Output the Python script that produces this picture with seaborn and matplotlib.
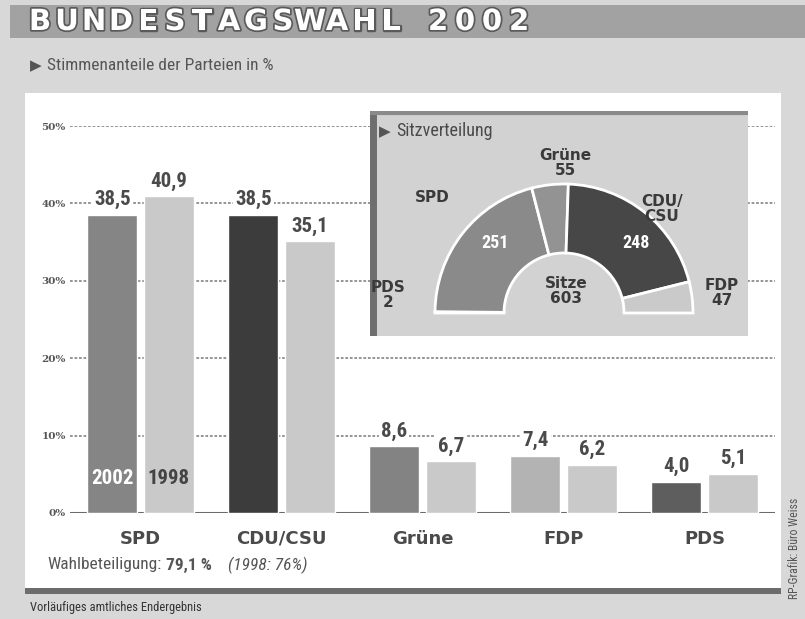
import matplotlib
matplotlib.use("Agg")
import matplotlib.pyplot as plt
import matplotlib.patheffects as pe
from matplotlib.patches import Rectangle
from matplotlib import font_manager as fm
import seaborn as sns
import pandas as pd

# ---------------- data ----------------
parties = ["SPD", "CDU/CSU", "Grüne", "FDP", "PDS"]
votes_2002 = [38.5, 38.5, 8.6, 7.4, 4.0]
votes_1998 = [40.9, 35.1, 6.7, 6.2, 5.1]
years = ["2002", "1998"]
ytick_values = [0, 10, 20, 30, 40, 50]
ytick_labels = ["0%", "10%", "20%", "30%", "40%", "50%"]

seat_parties = ["PDS", "SPD", "Grüne", "CDU/CSU", "FDP"]
seats = [2, 251, 55, 248, 47]
total_seats = 603

title = "BUNDESTAGSWAHL 2002"
subtitle = "Stimmenanteile der Parteien in %"
inset_title = "Sitzverteilung"
turnout_text = "Wahlbeteiligung:"
turnout_value = "79,1 %"
turnout_prev = "(1998: 76%)"
footer = "Vorläufiges amtliches Endergebnis"
credit = "RP-Grafik: Büro Weiss"

# ---------------- fonts ----------------
sns.set_style("white")


def pick(cands):
    for c in cands:
        try:
            fm.findfont(fm.FontProperties(family=c), fallback_to_default=False)
            return c
        except Exception:
            pass
    return "DejaVu Sans"


NARROW = pick(["Liberation Sans Narrow", "DejaVu Sans Condensed", "Roboto Condensed", "Liberation Sans"])
plt.rcParams["font.family"] = ["DejaVu Sans"]

W, H = 805, 619
fig = plt.figure(figsize=(W / 100, H / 100), dpi=100)
fig.patch.set_facecolor("#d8d8d8")


def fx(x):
    return x / W


def fy(y):
    return 1 - y / H


def rect(x0, y0, x1, y1, color, z=-5):
    fig.add_artist(Rectangle((fx(x0), fy(y1)), (x1 - x0) / W, (y1 - y0) / H,
                             transform=fig.transFigure, facecolor=color,
                             edgecolor="none", zorder=z))


# background pieces
rect(10, 5, 805, 38, "#a2a2a2")           # title band
rect(25, 93, 781, 590, "white")           # white panel
rect(25, 588, 781, 594, "#6c6c6c")        # dark bottom bar

# title letters, spaced
x = 40
for ch in title:
    if ch != " ":
        fig.text(fx(x), fy(22), ch, fontsize=21, fontweight="bold", color="white",
                 ha="center", va="center", zorder=5,
                 path_effects=[pe.withStroke(linewidth=2.5, foreground="#5a5a5a")])
    x += 27 if ch != " " else 20

fig.text(fx(30), fy(66), "\u25B6", fontsize=11, color="#555555", ha="left", va="center")
fig.text(fx(47), fy(66), subtitle, fontsize=12.5, color="#555555", ha="left", va="center",
         family=NARROW)

# ---------------- main bar chart ----------------
ax = fig.add_axes([fx(70), fy(513), (775 - 70) / W, (513 - 126) / H])
ax.patch.set_alpha(0)

df = pd.DataFrame({
    "party": parties * 2,
    "value": votes_2002 + votes_1998,
    "year": [years[0]] * len(parties) + [years[1]] * len(parties),
})
sns.barplot(data=df, x="party", y="value", hue="year", hue_order=years,
            order=parties, palette=["#888888", "#c9c9c9"], saturation=1,
            width=0.8, gap=0.12, legend=False, ax=ax, zorder=3)

colors_2002 = ["#858585", "#3c3c3c", "#838383", "#b3b3b3", "#5e5e5e"]
for patch, c in zip(ax.containers[0], colors_2002):
    patch.set_facecolor(c)
for patch in ax.containers[1]:
    patch.set_facecolor("#c9c9c9")

ax.set_ylim(0, 50)
ax.set_xlim(-0.5, 4.5)
for s in ax.spines.values():
    s.set_visible(False)

ax.set_yticks(ytick_values, labels=ytick_labels)
ax.tick_params(axis="y", length=0, pad=3, labelsize=7.5, labelcolor="#555555")
for t in ax.get_yticklabels():
    t.set_fontweight("bold")
    t.set_family("DejaVu Serif")
ax.grid(axis="y", linestyle=(0, (1.5, 1.0)), color="#8c8c8c", linewidth=1.3, zorder=0)
ax.set_axisbelow(True)
ax.axhline(0, color="#6a6a6a", linewidth=2.2, zorder=2)

ax.set_xlabel("")
ax.set_ylabel("")
ax.tick_params(axis="x", length=0, pad=12, labelsize=13, labelcolor="#4a4a4a")
for t in ax.get_xticklabels():
    t.set_fontweight("bold")

fmt = lambda v: f"{v:.1f}".replace(".", ",")
for cont, vals in zip(ax.containers, [votes_2002, votes_1998]):
    labs = ax.bar_label(cont, labels=[fmt(v) for v in vals], padding=4, fontsize=15,
                        fontweight="bold", color="#4a4a4a", family=NARROW, zorder=4)
    for l in labs:
        l.set_bbox(dict(facecolor="white", edgecolor="none", pad=1.5))

# year labels inside SPD bars
b02 = ax.containers[0][0]
b98 = ax.containers[1][0]
ax.text(b02.get_x() + b02.get_width() / 2, 4.5, years[0], ha="center", va="center",
        fontsize=15, fontweight="bold", color="white", family=NARROW, zorder=5)
ax.text(b98.get_x() + b98.get_width() / 2, 4.5, years[1], ha="center", va="center",
        fontsize=15, fontweight="bold", color="#444444", family=NARROW, zorder=5)

# turnout: place pieces one after another
renderer = fig.canvas.get_renderer()
xpos = 47
for txt, kw, gap in [(turnout_text, {}, 5), (turnout_value, {"fontweight": "bold"}, 16),
                     (turnout_prev, {"style": "italic"}, 0)]:
    t = fig.text(fx(xpos), fy(565), txt, fontsize=12.5, color="#555555", family=NARROW,
                 ha="left", va="center", **kw)
    bb = t.get_window_extent(renderer=renderer)
    xpos += bb.width + gap

fig.text(fx(30), fy(607), footer, fontsize=9, color="#333333", family=NARROW,
         ha="left", va="center")
fig.text(fx(794), fy(548), credit, fontsize=8.5, color="#555555", family=NARROW,
         rotation=90, ha="center", va="center")

# ---------------- inset: seat distribution ----------------
ix0, iy0, ix1, iy1 = 370, 111, 748, 336
inset_bg = fig.add_axes([fx(ix0), fy(iy1), (ix1 - ix0) / W, (iy1 - iy0) / H], zorder=5)
inset_bg.set_facecolor("#d2d2d2")
inset_bg.set_xticks([])
inset_bg.set_yticks([])
for s in inset_bg.spines.values():
    s.set_visible(False)
inset_bg.axvline(0.008, color="#6e6e6e", linewidth=5)
inset_bg.axhline(0.99, color="#8a8a8a", linewidth=3)
inset_bg.set_xlim(0, 1)
inset_bg.set_ylim(0, 1)
inset_bg.text(0.025, 0.91, "\u25B6", fontsize=11, color="#555555", ha="left", va="center")
inset_bg.text(0.07, 0.91, inset_title, fontsize=13, color="#4a4a4a", family=NARROW,
              ha="left", va="center")

cx, cy, half = 564, 313, 190
pax = fig.add_axes([fx(cx - half), fy(cy + half), 2 * half / W, 2 * half / H], zorder=6)
wedge_colors = ["#b8b8b8", "#8a8a8a", "#939393", "#474747", "#cacaca"]
wedges, _ = pax.pie(seats + [total_seats], radius=129, startangle=180, counterclock=False,
                    colors=wedge_colors + ["none"],
                    wedgeprops=dict(width=69, edgecolor="white", linewidth=2),
                    center=(0, 0), frame=True)
wedges[-1].set_edgecolor("none")
pax.set_xlim(-half, half)
pax.set_ylim(-half, half)
pax.axis("off")

lab_kw = dict(ha="center", va="center", fontweight="bold", color="#3a3a3a", fontsize=11,
              linespacing=1.0)
pax.text(1, 150, f"{seat_parties[2]}\n{seats[2]}", **lab_kw)
pax.text(-132, 116, seat_parties[1], **lab_kw)
pax.text(-69, 70, str(seats[1]), ha="center", va="center", fontweight="bold",
         color="white", fontsize=13, family=NARROW)
pax.text(72, 70, str(seats[3]), ha="center", va="center", fontweight="bold",
         color="white", fontsize=13, family=NARROW)
pax.text(98, 104, "CDU/\nCSU", **lab_kw)
pax.text(-176, 18, f"{seat_parties[0]}\n{seats[0]}", **lab_kw)
pax.text(2, 22, f"Sitze\n{total_seats}", **lab_kw)
pax.text(158, 20, f"{seat_parties[4]}\n{seats[4]}", **lab_kw)

fig.savefig("out.png", dpi=100, facecolor=fig.get_facecolor())
